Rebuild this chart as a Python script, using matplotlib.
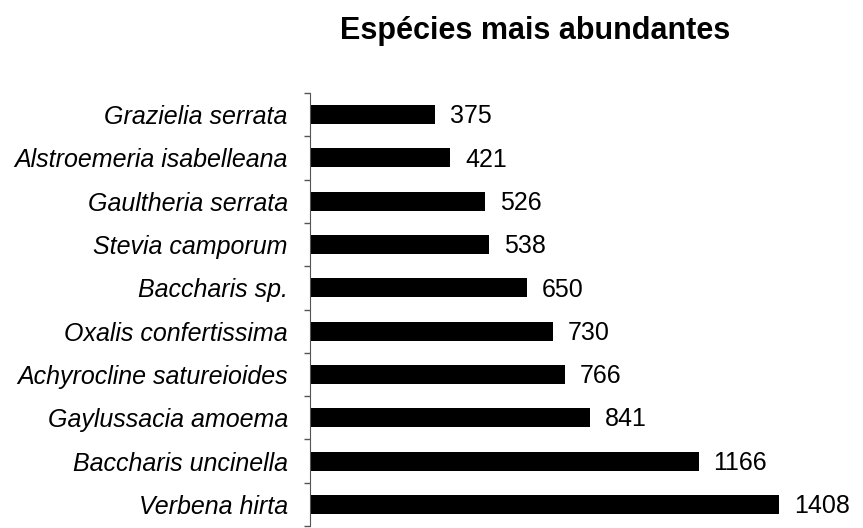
import matplotlib.pyplot as plt

plt.rcParams['font.family'] = ['Liberation Sans', 'DejaVu Sans']

# Espécies mais abundantes (número de indivíduos)
especies = ['Grazielia serrata', 'Alstroemeria isabelleana', 'Gaultheria serrata',
            'Stevia camporum', 'Baccharis sp.', 'Oxalis confertissima',
            'Achyrocline satureioides', 'Gaylussacia amoema', 'Baccharis uncinella',
            'Verbena hirta']
abundancia = [375, 421, 526, 538, 650, 730, 766, 841, 1166, 1408]

fig = plt.figure(figsize=(8.63, 5.28), dpi=100)
ax = fig.add_axes([310 / 863, 2 / 528, 510 / 863, 433 / 528])

pos = list(range(len(especies)))
ax.barh(pos, abundancia, height=0.44, color='black')
ax.set_ylim(len(especies) - 0.5, -0.5)
ax.set_xlim(0, 1530)

for p, v in zip(pos, abundancia):
    ax.annotate(str(v), (v, p), xytext=(10.5, -1.2), textcoords='offset points',
                va='center', ha='left', fontsize=18)

ax.set_yticks(pos)
ax.set_yticklabels(especies, fontsize=18, style='italic')
ax.tick_params(axis='y', which='major', length=0, pad=16)
ax.set_yticks([p - 0.5 for p in pos] + [len(especies) - 0.5], minor=True)
ax.tick_params(axis='y', which='minor', length=4, width=1, color='#555555')
ax.set_xticks([])

for s in ['top', 'right', 'bottom']:
    ax.spines[s].set_visible(False)
ax.spines['left'].set_color('#555555')

fig.text(535 / 863, 1 - 31 / 528, 'Espécies mais abundantes', ha='center', va='center',
         fontsize=22, fontweight='bold')

fig.savefig('out.png', dpi=100)
